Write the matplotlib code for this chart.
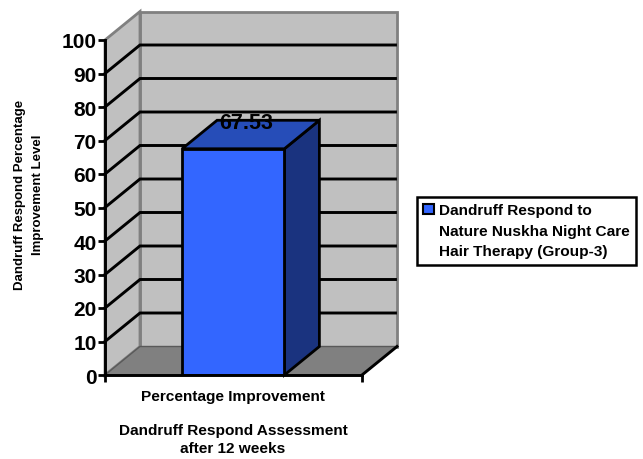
import matplotlib
matplotlib.use('Agg')
import matplotlib.pyplot as plt
from matplotlib.patches import Polygon, Patch

plt.rcParams['font.family'] = ['Liberation Sans', 'DejaVu Sans']
plt.rcParams['font.weight'] = 'bold'

category = 'Percentage Improvement'
value = 67.53
series_lines = ['Dandruff Respond to', 'Nature Nuskha Night Care', 'Hair Therapy (Group-3)']
yticks = [0, 10, 20, 30, 40, 50, 60, 70, 80, 90, 100]
ylabel = 'Dandruff Respond Percentage\nImprovement Level'
xlabel = 'Dandruff Respond Assessment\nafter 12 weeks'

W, H = 643, 460
# front plane of the 3d box in pixels
left, right, top, bottom = 105, 362, 41, 376
# depth of the box in data units
dx = 35 / (right - left)
dy = 28.5 / (bottom - top) * 100
bar_l, bar_r = 0.30, 0.698

fig = plt.figure(figsize=(W / 100, H / 100), dpi=100, facecolor='white')
ax = fig.add_axes([left / W, 1 - bottom / H, (right - left) / W, (bottom - top) / H])
ax.set_xlim(0, 1)
ax.set_ylim(0, 100)
ax.patch.set_visible(False)

def poly(pts, fc, ec, lw, z):
    ax.add_patch(Polygon(pts, closed=True, fc=fc, ec=ec, lw=lw, zorder=z, clip_on=False, joinstyle='miter'))

# walls
poly([(dx, dy), (1 + dx, dy), (1 + dx, 100 + dy), (dx, 100 + dy)], '#c0c0c0', '#808080', 2, 1)
poly([(0, 0), (dx, dy), (dx, 100 + dy), (0, 100)], '#c0c0c0', '#808080', 2, 1)
poly([(0, 0), (1, 0), (1 + dx, dy), (dx, dy)], '#808080', '#595959', 1, 1)

# gridlines on side and back wall
for t in yticks[1:-1]:
    ax.plot([0, dx, 1 + dx - 0.006], [t, t + dy, t + dy], color='black', lw=2.1, zorder=2,
            clip_on=False, solid_joinstyle='miter')
# floor front edge on the right
ax.plot([1, 1 + dx], [0, dy], color='black', lw=2.1, zorder=2, clip_on=False)

# bar
poly([(bar_r, 0), (bar_r + dx, dy), (bar_r + dx, value + dy), (bar_r, value)], '#1a337f', 'black', 2, 3)
poly([(bar_l, value), (bar_r, value), (bar_r + dx, value + dy), (bar_l + dx, value + dy)], '#264db8', 'black', 2, 3)
ax.bar([(bar_l + bar_r) / 2], [value], width=bar_r - bar_l, color='#3366ff', edgecolor='black', lw=2, zorder=3)
ax.text((bar_l + bar_r) / 2 + 0.05, value + dy - 0.6, '%.2f' % value, ha='center', va='center',
        fontsize=15.5, zorder=4, color='black')

# axes
for s in ['top', 'right']:
    ax.spines[s].set_visible(False)
for s in ['left', 'bottom']:
    ax.spines[s].set_linewidth(2.1)
    ax.spines[s].set_zorder(5)
ax.set_yticks(yticks)
ax.set_xticks([0, 1])
ax.set_xticklabels(['', ''])
ax.tick_params(axis='y', width=2, length=5, labelsize=15, pad=1)
ax.tick_params(axis='x', width=2, length=5)

fig.text(233 / W, 1 - 397 / H, category, ha='center', va='center', fontsize=11.1)
fig.text(233 / W, 1 - 440 / H, xlabel, ha='center', va='center', fontsize=11.1, linespacing=1.4)
fig.text(29 / W, 1 - 195 / H, ylabel, ha='center', va='center', rotation=90, fontsize=9.5, linespacing=1.75)

# one swatch on the first line, the other lines only hold text
handles = [Patch(fc='#3366ff', ec='black', lw=1.5, label=series_lines[0]),
           Patch(fc='none', ec='none', label=series_lines[1]),
           Patch(fc='none', ec='none', label=series_lines[2])]
leg = fig.legend(handles=handles,
                 loc='upper left', bbox_to_anchor=(417 / W, 1 - 198 / H), fontsize=11.1,
                 frameon=True, fancybox=False, edgecolor='black', framealpha=1,
                 handlelength=0.7, handleheight=0.7, handletextpad=0.3, borderpad=0.42,
                 borderaxespad=0, labelspacing=0.42)
leg.get_frame().set_linewidth(1.8)

fig.savefig('out.png', dpi=100)
